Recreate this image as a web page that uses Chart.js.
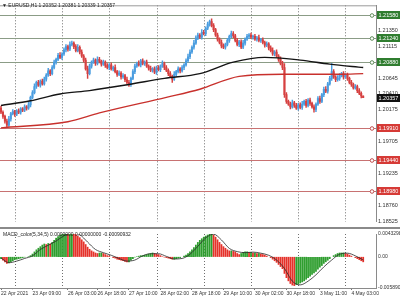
<!DOCTYPE html>
<html lang="en">
<head>
<meta charset="UTF-8">
<title>EURUSD H1</title>
<script src="https://cdn.jsdelivr.net/npm/chart.js"></script>
<style>
    body { margin: 0; background: #fff; font-family: "Liberation Sans", Arial, sans-serif; }
    #wrap { position: relative; width: 400px; height: 300px; overflow: hidden; }
    canvas { position: absolute; left: 0; }
    #main { top: 0; }
    #sep { position: absolute; left: 0; top: 227px; width: 400px; height: 2px; background: #8a8a8a; }
    #macd { top: 229px; }
    .lbl { position: absolute; font-size: 5px; color: #222; white-space: nowrap; }
</style>
</head>
<body>
<div id="wrap">
    <canvas id="main" width="400" height="227"></canvas>
    <div id="sep"></div>
    <canvas id="macd" width="400" height="71"></canvas>
    <div class="lbl" style="left:2px;top:2px">▼ EURUSD,H1 1.20352 1.20381 1.20339 1.20357</div>
    <div class="lbl" style="left:3px;top:231px">MACD_color(5,34,5) 0.0000000 0.00000000 -0.00090932</div>
</div>
<script>
// trading hours shown on the chart (H1 bars)
const days = [['22 Apr', 17, 23], ['23 Apr', 0, 23], ['26 Apr', 0, 23], ['27 Apr', 0, 23],
    ['28 Apr', 0, 23], ['29 Apr', 0, 23], ['30 Apr', 0, 23], ['3 May', 0, 23], ['4 May', 0, 9]];
const emptySlots = 6;
const firstLabel = '22 Apr 2021';
const shownTimes = ['23 Apr 09:00', '26 Apr 03:00', '26 Apr 18:00', '27 Apr 10:00', '28 Apr 02:00',
    '28 Apr 18:00', '29 Apr 10:00', '30 Apr 02:00', '30 Apr 18:00', '3 May 11:00', '4 May 03:00'];

// price data
const firstOpen = 1.2020;
const closes = [
    1.2014, 1.2008, 1.2001, 1.1995, 1.2004, 1.2012, 1.2015, 1.2011, 1.2016, 1.2014,
    1.2019, 1.2017, 1.2022, 1.2020, 1.2025, 1.2036, 1.2043, 1.2052, 1.2058, 1.2054,
    1.2060, 1.2056, 1.2063, 1.2069, 1.2075, 1.2071, 1.2080, 1.2088, 1.2092, 1.2098,
    1.2095, 1.2100, 1.2106, 1.2111, 1.2107, 1.2114, 1.2116, 1.2111, 1.2105, 1.2110,
    1.2103, 1.2097, 1.2091, 1.2078, 1.2071, 1.2082, 1.2088, 1.2091, 1.2086, 1.2092,
    1.2089, 1.2085, 1.2088, 1.2083, 1.2080, 1.2084, 1.2078, 1.2080, 1.2074, 1.2070,
    1.2072, 1.2066, 1.2068, 1.2062, 1.2058, 1.2055, 1.2064, 1.2074, 1.2082, 1.2086,
    1.2084, 1.2090, 1.2086, 1.2088, 1.2082, 1.2079, 1.2076, 1.2078, 1.2073, 1.2080,
    1.2077, 1.2082, 1.2086, 1.2080, 1.2076, 1.2071, 1.2067, 1.2063, 1.2070, 1.2074,
    1.2078, 1.2075, 1.2080, 1.2084, 1.2090, 1.2096, 1.2103, 1.2110, 1.2116, 1.2124,
    1.2128, 1.2125, 1.2132, 1.2130, 1.2138, 1.2144, 1.2148, 1.2142, 1.2136, 1.2128,
    1.2122, 1.2117, 1.2112, 1.2110, 1.2114, 1.2120, 1.2126, 1.2130, 1.2127, 1.2120,
    1.2114, 1.2118, 1.2110, 1.2116, 1.2122, 1.2126, 1.2128, 1.2125, 1.2126, 1.2122,
    1.2124, 1.2120, 1.2121, 1.2117, 1.2113, 1.2115, 1.2109, 1.2105, 1.2100, 1.2103,
    1.2097, 1.2092, 1.2086, 1.2080, 1.2040, 1.2030, 1.2026, 1.2022, 1.2028, 1.2024,
    1.2020, 1.2025, 1.2021, 1.2026, 1.2030, 1.2024, 1.2032, 1.2027, 1.2022, 1.2018,
    1.2026, 1.2034, 1.2030, 1.2040, 1.2048, 1.2045, 1.2056, 1.2064, 1.2074, 1.2066,
    1.2062, 1.2064, 1.2068, 1.2071, 1.2066, 1.2069, 1.2064, 1.2058, 1.2055, 1.2050,
    1.2052, 1.2046, 1.2042, 1.2038, 1.20357
];
// wick lengths above / below the body, in pips
const wickUp = [
    3, 2, 2, 3, 4, 2, 3, 2, 2, 3, 2, 2, 3, 2, 4, 2, 3, 4, 2, 3,
    2, 3, 3, 2, 4, 2, 3, 3, 2, 3, 4, 2, 3, 3, 2, 4, 3, 2, 3, 4,
    2, 3, 2, 3, 4, 3, 2, 3, 2, 4, 3, 2, 3, 2, 3, 2, 3, 2, 4, 2,
    3, 2, 3, 2, 4, 3, 2, 3, 3, 2, 4, 2, 3, 2, 3, 2, 3, 2, 3, 2,
    3, 2, 4, 2, 3, 2, 3, 2, 4, 2, 3, 2, 3, 2, 3, 4, 3, 2, 4, 3,
    3, 2, 4, 3, 2, 3, 2, 4, 3, 2, 3, 2, 4, 3, 2, 3, 2, 4, 3, 2,
    3, 2, 3, 4, 2, 3, 2, 3, 2, 3, 2, 4, 2, 3, 2, 3, 2, 3, 4, 2,
    3, 2, 4, 3, 6, 3, 2, 3, 4, 2, 3, 2, 3, 4, 2, 3, 2, 3, 2, 3,
    2, 3, 4, 2, 3, 4, 2, 3, 12, 3, 2, 4, 3, 2, 3, 2, 3, 2, 3, 2,
    3, 2, 3, 2, 0.2
];
const wickDn = [
    2, 3, 3, 3, 2, 3, 2, 3, 2, 2, 3, 2, 2, 3, 2, 3, 2, 2, 3, 2,
    3, 2, 2, 3, 2, 3, 2, 2, 3, 2, 2, 3, 2, 3, 3, 2, 2, 3, 2, 2,
    3, 2, 3, 2, 7, 2, 3, 2, 3, 2, 2, 3, 2, 3, 2, 3, 2, 3, 2, 3,
    2, 3, 2, 3, 2, 3, 3, 2, 3, 2, 2, 3, 2, 3, 2, 3, 2, 3, 2, 3,
    2, 3, 2, 3, 2, 3, 2, 5, 2, 3, 2, 3, 2, 3, 2, 2, 3, 2, 3, 2,
    3, 2, 3, 2, 3, 2, 3, 2, 3, 2, 3, 2, 3, 2, 3, 2, 3, 2, 3, 2,
    2, 3, 2, 2, 3, 2, 3, 2, 3, 2, 3, 2, 3, 2, 3, 2, 3, 2, 2, 3,
    2, 3, 2, 3, 4, 3, 2, 3, 2, 3, 2, 3, 2, 3, 2, 3, 2, 3, 2, 4,
    3, 2, 3, 2, 3, 2, 3, 2, 3, 2, 3, 2, 3, 2, 3, 2, 3, 2, 3, 2,
    2, 3, 2, 3, 0.2
];

// moving averages, read at a few bars
const blackMaAt = [0, 15, 30, 45, 65, 83, 101, 118, 134, 152, 167, 184];
const blackMa = [1.2024, 1.2031, 1.2041, 1.2046, 1.2055, 1.2064, 1.2071, 1.2088, 1.2095, 1.2091, 1.2085, 1.2080];
const redMaAt = [0, 34, 50, 84, 101, 121, 143, 172, 184];
const redMa = [1.1991, 1.2000, 1.2013, 1.2036, 1.2048, 1.2067, 1.2070, 1.2070, 1.2071];

// horizontal levels and price axis
const buyLevels = [1.21580, 1.21240, 1.20880];
const sellLevels = [1.19910, 1.19440, 1.18980];
const lastPrice = 1.20357;
const priceTicks = [1.21350, 1.21115, 1.20645, 1.20410, 1.20175, 1.19705, 1.19235, 1.18760, 1.18525];
const priceMin = 1.18524, priceMax = 1.21719;

// MACD histogram (in pips, 0.0001) and signal line every 4 bars
const macdPips = [
    -4, -7, -10, -13, -12, -10, -8, -6, -5, -4,
    -3, -2, -1, 0, 1, 3, 6, 10, 14, 17,
    20, 23, 25, 24, 26, 25, 28, 32, 36, 39,
    42, 43, 45, 46, 45, 46, 47, 45, 43, 40,
    37, 33, 29, 24, 19, 15, 12, 10, 8, 7,
    8, 8, 7, 5, 3, 2, 0, -2, -3, -5,
    -6, -7, -8, -9, -10, -10, -7, -4, -1, 1,
    2, 3, 3, 4, 5, 6, 7, 8, 7, 6,
    5, 3, 1, -1, -2, -3, -4, -5, -5, -4,
    -3, -2, 0, 2, 4, 7, 10, 14, 18, 23,
    28, 32, 35, 38, 40, 42, 44, 45, 42, 38,
    33, 28, 24, 20, 17, 14, 12, 12, 11, 10,
    7, 5, 7, 9, 10, 10, 9, 9, 8, 8,
    7, 7, 6, 5, 4, 2, 0, -2, -5, -8,
    -11, -15, -19, -23, -32, -40, -46, -51, -54, -55,
    -53, -52, -50, -48, -46, -43, -40, -37, -34, -31,
    -28, -24, -20, -17, -13, -10, -7, -4, 0, 3,
    5, 7, 8, 8, 8, 7, 6, 4, 2, 0,
    -2, -4, -6, -8, -10
];
const signalEvery = 4;
const signalPips = [-2, -11, -8, -3, 2, 14, 22, 30, 40, 45, 42, 28, 14, 8, 3, -3, -8, -6, 2, 6,
    6, 1, -4, -3, 5, 20, 36, 43, 32, 16, 10, 8, 9, 7, 3, -6, -22, -46, -53, -46,
    -34, -19, -6, 5, 7, 2, -6];
const macdMax = 0.0043298, macdMin = -0.00589;
const macdTickText = { max: '0.0043298', zero: '0.00', min: '-0.005890' };

// ---------------------------------------------------------------
const pip = 0.0001;
const fontFamily = '"Liberation Sans", Arial, sans-serif';
Chart.defaults.font.family = fontFamily;

const times = [];
days.forEach(([d, from, to]) => {
    for (let h = from; h <= to; h++) times.push(d + ' ' + String(h).padStart(2, '0') + ':00');
});
const labels = times.concat(Array(emptySlots).fill(''));
const sepIdx = times.map((t, i) => (t.endsWith(' 00:00') ? i : -1)).filter(i => i > 0);

const opens = closes.map((c, i) => (i === 0 ? firstOpen : closes[i - 1]));
const highs = closes.map((c, i) => Math.max(opens[i], c) + wickUp[i] * pip);
const lows = closes.map((c, i) => Math.min(opens[i], c) - wickDn[i] * pip);
const candleColors = closes.map((c, i) => (c >= opens[i] ? '#4a9de0' : '#d64040'));

function sparse(at, vals) {
    const out = Array(closes.length).fill(null);
    at.forEach((k, j) => { out[k] = vals[j]; });
    return out;
}

const macd = macdPips.map(v => v * pip);
const macdColors = macd.map((v, i) => (i > 0 && v < macd[i - 1] ? '#e5322b' : '#2f9e2f'));
const signal = Array(closes.length).fill(null);
signalPips.forEach((v, j) => { signal[j * signalEvery] = v * pip; });

// dotted day separators
const separators = {
    id: 'separators',
    beforeDatasetsDraw(chart) {
        const { ctx, chartArea: a, scales: { x } } = chart;
        ctx.save();
        ctx.strokeStyle = '#6f6f6f';
        ctx.lineWidth = 1;
        ctx.setLineDash([1, 2]);
        sepIdx.forEach(i => {
            const px = Math.round(x.getPixelForValue(i)) + 0.5;
            ctx.beginPath();
            ctx.moveTo(px, a.top);
            ctx.lineTo(px, a.bottom);
            ctx.stroke();
        });
        ctx.restore();
    }
};

// level lines + axis boxes
const levels = {
    id: 'levels',
    beforeDatasetsDraw(chart) {
        const { ctx, chartArea: a, scales: { y } } = chart;
        ctx.save();
        ctx.lineWidth = 1;
        ctx.strokeStyle = '#9a9a9a';
        ctx.beginPath();
        ctx.moveTo(a.left, a.top + 0.5);
        ctx.lineTo(a.right, a.top + 0.5);
        ctx.stroke();
        const draw = (v, col) => {
            const py = Math.round(y.getPixelForValue(v)) + 0.5;
            ctx.strokeStyle = col;
            ctx.beginPath();
            ctx.moveTo(a.left, py);
            ctx.lineTo(a.right, py);
            ctx.stroke();
        };
        buyLevels.forEach(v => draw(v, '#8b9c86'));
        sellLevels.forEach(v => draw(v, '#c87272'));
        ctx.restore();
    },
    afterDraw(chart) {
        const { ctx, chartArea: a, scales: { y } } = chart;
        ctx.save();
        ctx.font = '5.5px ' + fontFamily;
        ctx.textBaseline = 'middle';
        const box = (v, line, fill) => {
            const py = Math.round(y.getPixelForValue(v));
            if (line) {
                ctx.fillStyle = '#fff';
                ctx.strokeStyle = line;
                ctx.beginPath();
                ctx.arc(a.right - 4, py + 0.5, 1.8, 0, Math.PI * 2);
                ctx.fill();
                ctx.stroke();
            }
            ctx.fillStyle = fill;
            ctx.fillRect(a.right + 1, py - 4, 23, 8);
            ctx.fillStyle = '#fff';
            ctx.fillText(v.toFixed(5), a.right + 2.5, py + 0.5);
        };
        buyLevels.forEach(v => box(v, '#5f8a5a', '#2f7d2f'));
        sellLevels.forEach(v => box(v, '#c05050', '#d63a36'));
        box(lastPrice, null, '#111');
        ctx.restore();
    }
};

new Chart(document.getElementById('main'), {
    type: 'bar',
    data: {
        labels: labels,
        datasets: [
            { type: 'line', data: sparse(blackMaAt, blackMa), borderColor: '#141414', borderWidth: 1.4,
              pointRadius: 0, spanGaps: true, cubicInterpolationMode: 'monotone', order: 0 },
            { type: 'line', data: sparse(redMaAt, redMa), borderColor: '#c8302c', borderWidth: 1.4,
              pointRadius: 0, spanGaps: true, cubicInterpolationMode: 'monotone', order: 0 },
            { data: closes.map((c, i) => [opens[i], c]), backgroundColor: candleColors,
              barThickness: 1.4, minBarLength: 1, grouped: false, order: 1 },
            { data: closes.map((c, i) => [lows[i], highs[i]]), backgroundColor: candleColors,
              barThickness: 0.8, grouped: false, order: 2 }
        ]
    },
    options: {
        responsive: false,
        animation: false,
        layout: { padding: { top: 1, bottom: 1, left: 0, right: 0 } },
        plugins: { legend: { display: false }, tooltip: { enabled: false } },
        scales: {
            x: { display: false, offset: true },
            y: {
                position: 'right',
                min: priceMin,
                max: priceMax,
                afterBuildTicks: s => { s.ticks = priceTicks.map(v => ({ value: v })); },
                afterFit: s => { s.width = 24; },
                grid: { display: false, drawTicks: false },
                border: { color: '#8a8a8a' },
                ticks: { font: { size: 5.5 }, color: '#333', padding: 2, callback: v => v.toFixed(5) }
            }
        }
    },
    plugins: [separators, levels]
});

new Chart(document.getElementById('macd'), {
    type: 'bar',
    data: {
        labels: labels,
        datasets: [
            { type: 'line', data: signal, borderColor: '#2a2a2a', borderWidth: 0.8, pointRadius: 0,
              spanGaps: true, cubicInterpolationMode: 'monotone', order: 0 },
            { data: macd, backgroundColor: macdColors, barPercentage: 0.9, categoryPercentage: 1, order: 1 }
        ]
    },
    options: {
        responsive: false,
        animation: false,
        layout: { padding: { top: 3, bottom: 0, left: 0, right: 0 } },
        plugins: { legend: { display: false }, tooltip: { enabled: false } },
        scales: {
            x: {
                offset: true,
                afterFit: s => { s.height = 12; },
                grid: {
                    drawOnChartArea: false, offset: false, tickLength: 2,
                    color: c => (c.index === 0 || shownTimes.includes(labels[c.index]) ? '#777' : 'rgba(0,0,0,0)')
                },
                border: { color: '#8a8a8a' },
                ticks: {
                    autoSkip: false, maxRotation: 0, minRotation: 0, align: 'start', padding: 1,
                    font: { size: 5 }, color: '#333',
                    callback: (v, i) => (i === 0 ? firstLabel : (shownTimes.includes(labels[i]) ? labels[i] : ''))
                }
            },
            y: {
                position: 'right',
                min: macdMin,
                max: macdMax,
                afterBuildTicks: s => { s.ticks = [{ value: macdMax }, { value: 0 }, { value: macdMin }]; },
                afterFit: s => { s.width = 24; },
                grid: { display: false, drawTicks: false },
                border: { color: '#8a8a8a' },
                ticks: {
                    font: { size: 5 }, color: '#333', padding: 2,
                    callback: v => (v === 0 ? macdTickText.zero : (v > 0 ? macdTickText.max : macdTickText.min))
                }
            }
        }
    },
    plugins: [separators]
});
</script>
</body>
</html>
